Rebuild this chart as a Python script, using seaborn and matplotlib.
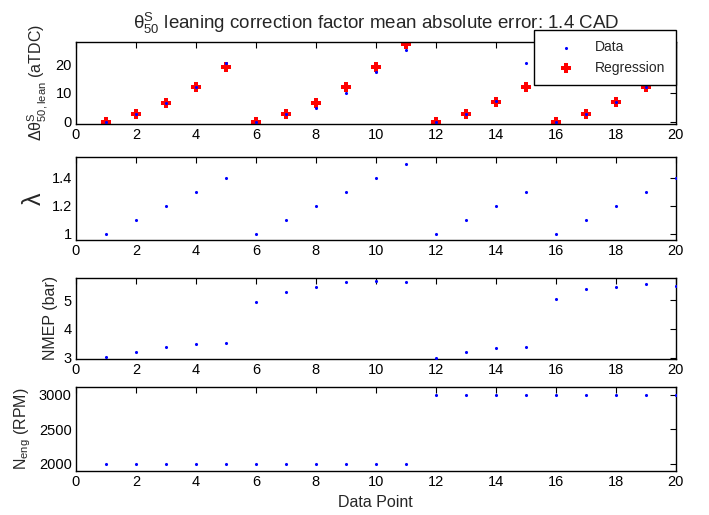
import matplotlib
matplotlib.use('Agg')
import matplotlib.pyplot as plt
import seaborn as sns
import pandas as pd

# ---- data ----
points = [1, 2, 3, 4, 5, 6, 7, 8, 9, 10, 11, 12, 13, 14, 15, 16, 17, 18, 19, 20]
dtheta_data = [0.0, 2.5, 6.5, 12.2, 20.3, 0.0, 2.5, 4.6, 9.9, 17.4, 24.7,
               0.0, 2.7, 7.3, 20.5, 0.0, 2.6, 6.8, 12.0, 23.4]
dtheta_reg = [-0.2, 2.5, 6.5, 12.0, 19.0, -0.2, 2.5, 6.5, 12.0, 19.0, 27.0,
              -0.2, 2.7, 6.8, 12.0, -0.2, 2.6, 6.8, 12.0, 18.5]
lam = [1.0, 1.1, 1.2, 1.3, 1.4, 1.0, 1.1, 1.2, 1.3, 1.4, 1.5,
       1.0, 1.1, 1.2, 1.3, 1.0, 1.1, 1.2, 1.3, 1.4]
nmep = [3.04, 3.22, 3.37, 3.49, 3.53, 4.93, 5.28, 5.46, 5.62, 5.67, 5.63,
        3.0, 3.2, 3.33, 3.38, 5.02, 5.37, 5.46, 5.54, 5.5]
neng = [2000, 2000, 2000, 2000, 2000, 2000, 2000, 2000, 2000, 2000, 2000,
        3000, 3000, 3000, 3000, 3000, 3000, 3000, 3000, 3000]
xticks = [0, 2, 4, 6, 8, 10, 12, 14, 16, 18, 20]

df = pd.DataFrame({'point': points, 'dtheta_data': dtheta_data,
                   'dtheta_reg': dtheta_reg, 'lam': lam,
                   'nmep': nmep, 'neng': neng})

sns.set_style('white')
plt.rcParams['font.family'] = ['Liberation Sans', 'DejaVu Sans']
plt.rcParams['mathtext.default'] = 'regular'

fig = plt.figure(figsize=(7.09, 5.15), dpi=100)
W, H = 709.0, 515.0
left, right = 76.0, 675.7
boxes = [(41.5, 124.3), (157.3, 240.0), (277.5, 358.5), (387.3, 471.0)]
axes = []
for top, bot in boxes:
    ax = fig.add_axes([left / W, 1 - bot / H, (right - left) / W, (bot - top) / H])
    axes.append(ax)

dot_kw = dict(color='blue', marker='o', s=5, linewidth=0, zorder=3)

ax1, ax2, ax3, ax4 = axes
sns.scatterplot(data=df, x='point', y='dtheta_data', ax=ax1, label='Data', **dot_kw)
sns.scatterplot(data=df, x='point', y='dtheta_reg', ax=ax1, label='Regression',
                color='red', marker='P', s=62, linewidth=0, zorder=2)
sns.scatterplot(data=df, x='point', y='lam', ax=ax2, **dot_kw)
sns.scatterplot(data=df, x='point', y='nmep', ax=ax3, **dot_kw)
sns.scatterplot(data=df, x='point', y='neng', ax=ax4, **dot_kw)

ax1.set_ylim(-0.9, 27.8)
ax1.set_yticks([0, 10, 20])
ax2.set_ylim(0.955, 1.545)
ax2.set_yticks([1.0, 1.2, 1.4])
ax2.set_yticklabels(['1', '1.2', '1.4'])
ax3.set_ylim(2.98, 5.78)
ax3.set_yticks([3, 4, 5])
ax4.set_ylim(1895, 3105)
ax4.set_yticks([2000, 2500, 3000])

for ax in axes:
    ax.set_xlim(0, 20)
    ax.set_xticks(xticks)
    ax.set_xlabel('')
    ax.tick_params(direction='in', top=True, right=True, length=4, width=0.8,
                   labelsize=10.5, colors='black', pad=3)
    for sp in ax.spines.values():
        sp.set_color('black')
        sp.set_linewidth(1.0)

ax1.set_ylabel(r'$\Delta\theta^{S}_{50,lean}$ (aTDC)', fontsize=11.5)
ax2.set_ylabel('λ', fontsize=18)
ax3.set_ylabel('NMEP (bar)', fontsize=11.5)
ax4.set_ylabel(r'$N_{eng}$ (RPM)', fontsize=11.5)
ax4.set_xlabel('Data Point', fontsize=11.5, labelpad=4)

ax1.set_title(r'$\theta^{S}_{50}$ leaning correction factor mean absolute error: 1.4 CAD',
              fontsize=13.5, pad=9)

leg = ax1.legend(loc='upper right', bbox_to_anchor=(675.5 / W, 1 - 30 / H),
                 bbox_transform=fig.transFigure, frameon=True, fancybox=False,
                 edgecolor='black', framealpha=1, fontsize=10,
                 handletextpad=0.55, borderpad=0.75, labelspacing=0.45,
                 handlelength=3.1, borderaxespad=0)
leg.get_frame().set_linewidth(1.0)
leg.set_zorder(10)

fig.savefig('out.png', dpi=100)
